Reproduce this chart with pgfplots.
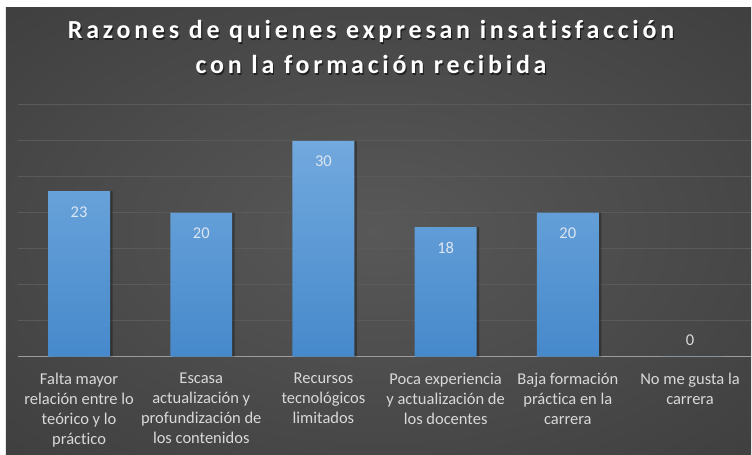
\documentclass[border=0pt]{standalone}
\usepackage{fontspec}
\setmainfont{Carlito}[Ligatures=NoCommon]
\newfontfamily\titlefont{Carlito}[LetterSpace=14.5, Ligatures=NoCommon]
\usepackage{pgfplots}
\pgfplotsset{compat=1.18}
\definecolor{bgin}{HTML}{585858}
\definecolor{bgout}{HTML}{262626}
\definecolor{gridc}{HTML}{5A5A5A}
\definecolor{axc}{HTML}{9C9C9C}
\definecolor{bartop}{HTML}{72A9DE}
\definecolor{barbot}{HTML}{4689CB}
\definecolor{labc}{HTML}{D9D9D9}
\definecolor{valc}{HTML}{DCE6F1}
\pgfdeclareradialshading{bgshade}{\pgfpoint{0bp}{0bp}}{color(0bp)=(bgin); color(72bp)=(bgout)}
\begin{document}
\begin{tikzpicture}[x=1bp,y=1bp]
\fill[white] (0,0) rectangle (752,455);
\shade[shading=bgshade] (6,0) rectangle (752,447);
\begin{axis}[
  at={(18bp,98bp)}, anchor=south west,
  scale only axis, width=734bp, height=252bp,
  xmin=-0.5, xmax=5.5, ymin=0, ymax=35,
  axis lines*=left,
  x axis line style={draw=axc, line width=1.8bp},
  y axis line style={draw=none},
  ytick={0,5,...,35}, yticklabels={},
  ymajorgrids, grid style={draw=gridc, line width=0.8bp},
  major tick length=0pt,
  xtick={0,...,5},
  xticklabels={{Falta mayor\\relación entre lo\\teórico y lo\\práctico},
    {Escasa\\actualización y\\profundización de\\los contenidos},
    {Recursos\\tecnológicos\\limitados},
    {Poca experiencia\\y actualización de\\los docentes},
    {Baja formación\\práctica en la\\carrera},
    {No me gusta la\\carrera}},
  xticklabel style={align=center, font=\fontsize{16.5bp}{20bp}\selectfont,
    text=labc, inner sep=0pt, anchor=north, yshift=-16.5bp,
    execute at begin node={\rule{0pt}{13bp}}},
  clip=false,
]
\addplot[ybar, bar width=62bp, bar shift=2.5bp, draw=none, fill=black, fill opacity=0.3]
  coordinates {(0,23) (1,20) (2,30) (3,18) (4,20) (5,0)};
\addplot[ybar, bar width=62bp, bar shift=0pt, draw=none, top color=bartop, bottom color=barbot]
  coordinates {(0,23) (1,20) (2,30) (3,18) (4,20) (5,0)};
\addplot[draw=none, mark=none, nodes near coords, point meta=explicit symbolic,
  nodes near coords align={below},
  every node near coord/.append style={inner sep=0pt, yshift=-15bp, text=valc,
    font=\fontsize{16.5bp}{20bp}\selectfont}]
  coordinates {(0,23)[23] (1,20)[20] (2,30)[30] (3,18)[18] (4,20)[20]};
\addplot[draw=none, mark=none, nodes near coords, point meta=explicit symbolic,
  nodes near coords align={above},
  every node near coord/.append style={inner sep=0pt, yshift=11bp, text=labc,
    font=\fontsize{16.5bp}{20bp}\selectfont}]
  coordinates {(5,0)[0]};
\end{axis}
\begin{scope}[font=\titlefont\bfseries\fontsize{26bp}{36bp}\selectfont]
\node[anchor=base, text=black, opacity=0.55] at (372.7,414.8) {Razones de quienes expresan insatisfacción};
\node[anchor=base, text=black, opacity=0.55] at (372.7,379.5) {con la formación recibida};
\node[anchor=base, text=white] at (371.5,416.3) {Razones de quienes expresan insatisfacción};
\node[anchor=base, text=white] at (371.5,381) {con la formación recibida};
\end{scope}
\end{tikzpicture}
\end{document}
